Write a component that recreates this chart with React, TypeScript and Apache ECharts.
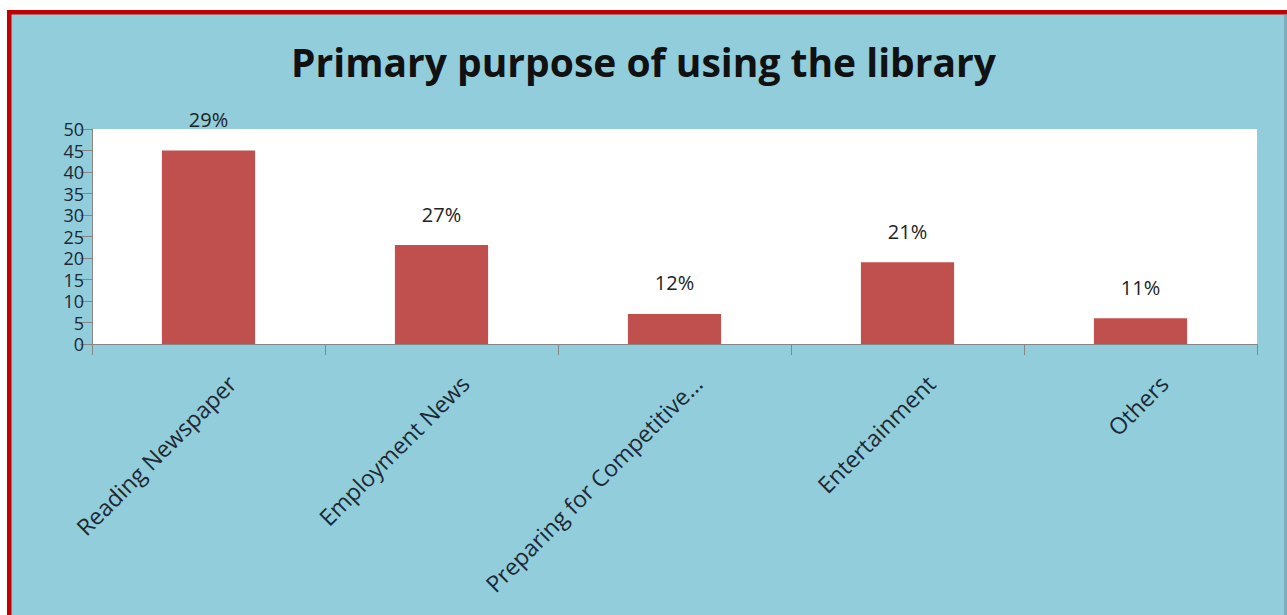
import React, { useEffect, useRef } from "react";
import * as echarts from "echarts";

const titleText = "Primary purpose of using the library";
const categories = [
  "Reading Newspaper",
  "Employment News",
  "Preparing for Competitive...",
  "Entertainment",
  "Others",
];
const values = [45, 23, 7, 19, 6];
const percentLabels = ["29%", "27%", "12%", "21%", "11%"];
const yMin = 0;
const yMax = 50;
const yStep = 5;

const FONT = "'Open Sans', 'DejaVu Sans', sans-serif";
const TEXT_COLOR = "#1c2833";
const AXIS_COLOR = "#868686";

export default function App() {
  const ref = useRef<HTMLDivElement>(null);

  useEffect(() => {
    if (!ref.current) return;
    const chart = echarts.init(ref.current, undefined, { renderer: "svg" });
    chart.setOption({
      animation: false,
      backgroundColor: "#ffffff",
      graphic: [
        {
          type: "rect",
          z: -100,
          shape: { x: 7, y: 10, width: 1280, height: 605 },
          style: { fill: "#C00000" },
        },
        {
          type: "rect",
          z: -99,
          shape: { x: 11.5, y: 14.5, width: 1276, height: 601 },
          style: { fill: "#92CDDC" },
        },
        {
          type: "rect",
          z: -98,
          shape: { x: 1284, y: 14.5, width: 3, height: 601 },
          style: { fill: "#7FAEBB" },
        },
      ],
      title: {
        text: titleText,
        left: "center",
        top: 37,
        textStyle: {
          fontFamily: FONT,
          fontWeight: "bold",
          fontSize: 39,
          color: "#111111",
        },
      },
      grid: {
        left: 92,
        top: 129,
        width: 1165,
        height: 215,
        show: true,
        backgroundColor: "#ffffff",
        borderWidth: 0,
      },
      xAxis: {
        type: "category",
        data: categories,
        axisLine: { show: true, lineStyle: { color: AXIS_COLOR, width: 1 } },
        axisTick: {
          show: true,
          length: 11,
          alignWithLabel: false,
          lineStyle: { color: AXIS_COLOR },
        },
        axisLabel: {
          interval: 0,
          rotate: 45,
          margin: 12,
          verticalAlign: "top",
          lineHeight: 66,
          fontFamily: FONT,
          fontSize: 23,
          color: TEXT_COLOR,
        },
        splitLine: { show: false },
      },
      yAxis: {
        type: "value",
        min: yMin,
        max: yMax,
        interval: yStep,
        axisLine: { show: true, lineStyle: { color: AXIS_COLOR, width: 1 } },
        axisTick: { show: true, length: 12, lineStyle: { color: AXIS_COLOR } },
        axisLabel: {
          margin: 8,
          fontFamily: FONT,
          fontSize: 18,
          lineHeight: 18,
          color: TEXT_COLOR,
        },
        splitLine: { show: false },
      },
      series: [
        {
          type: "bar",
          data: values,
          barWidth: "40%",
          itemStyle: { color: "#C0504D" },
          label: {
            show: true,
            position: "top",
            distance: 21,
            formatter: (p: any) => percentLabels[p.dataIndex],
            fontFamily: FONT,
            fontSize: 20,
            color: "#222222",
          },
        },
      ],
    });
    return () => chart.dispose();
  }, []);

  return (
    <div
      ref={ref}
      style={{
        position: "absolute",
        left: 0,
        top: 0,
        width: "1287px",
        height: "615px",
      }}
    />
  );
}
